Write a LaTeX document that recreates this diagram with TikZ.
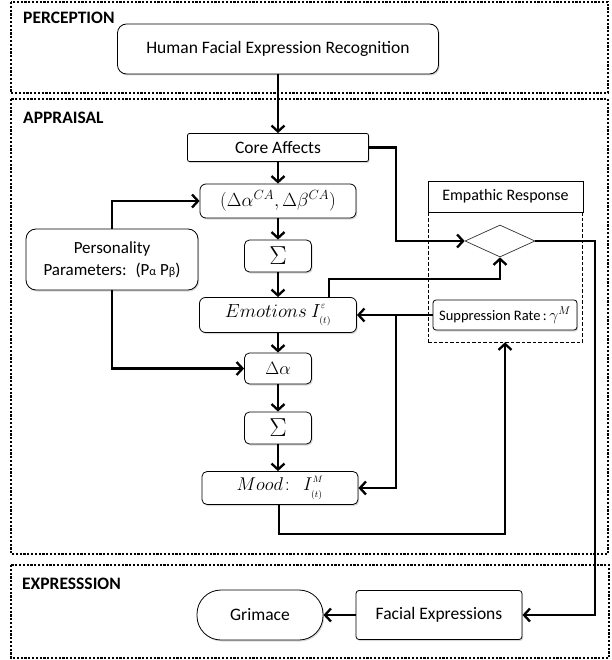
\documentclass[tikz,border=0pt]{standalone}
\usepackage{fix-cm}
\usepackage{fontspec}
\setmainfont{Carlito}
\usetikzlibrary{arrows.meta,shapes.geometric,shadows}
\newcommand{\supsub}[2]{^{\raise1.2pt\hbox{$\scriptscriptstyle #1$}}_{\lower1.8pt\hbox{$\scriptscriptstyle #2$}}}
\begin{document}
\begin{tikzpicture}[x=1pt,y=-1pt,
  sect/.style={draw, line width=2.2pt, dash pattern=on 2.2pt off 1.6pt},
  lbl/.style={font=\fontsize{17.5}{19}\selectfont\bfseries, anchor=west, inner sep=0pt},
  box/.style={draw, line width=0.8pt, fill=white, inner sep=0pt,
    drop shadow={opacity=0.3, shadow xshift=1.2pt, shadow yshift=-1.5pt},
    font=\fontsize{17.5}{21}\selectfont, align=center},
  arr/.style={line width=2.3pt, -{Straight Barb[length=6pt,width=13pt]}}
]
\useasboundingbox (0,0) rectangle (611,660);

% sections
\draw[sect] (11,2) rectangle (608,93);
\draw[sect] (11,99) rectangle (608,554);
\draw[sect] (11,565) rectangle (609,658);
\node[lbl] (lperc) at (23,18) {PERCEPTION};
\node[lbl] (lappr) at (23,118) {APPRAISAL};
\node[lbl] (lexpr) at (22,584) {EXPRESSSION};

% empathic response frame
\node[draw, line width=0.7pt, dash pattern=on 3.5pt off 2pt, minimum width=154pt, minimum height=161pt, inner sep=0pt] (emp) at (505,261.5) {};
\node[draw, line width=0.8pt, fill=white, minimum width=155pt, minimum height=31pt, inner sep=0pt, font=\fontsize{16}{19}\selectfont] (emph) at (505.5,196.5) {Empathic Response};

% perception
\node[box, rounded corners=9pt, minimum width=321pt, minimum height=50pt] (hfer) at (278,49) {Human Facial Expression Recognition};

% appraisal spine
\node[box, rounded corners=2pt, minimum width=181pt, minimum height=28pt] (core) at (278,147.5) {Core Affects};
\node[box, rounded corners=6pt, minimum width=156pt, minimum height=34pt, font=\fontsize{19}{22}\selectfont] (dca) at (278,201) {$(\Delta\alpha^{CA},\Delta\beta^{CA})$};
\node[box, rounded corners=5pt, minimum width=67pt, minimum height=32pt, font=\fontsize{26}{28}\selectfont] (s1) at (278,256) {$\Sigma$};
\node[box, rounded corners=6pt, minimum width=157pt, minimum height=35pt, font=\fontsize{19}{22}\selectfont] (emo) at (278,315) {$Emotions\ I\supsub{\varepsilon}{(t)}$};
\node[box, rounded corners=5pt, minimum width=67pt, minimum height=31pt, font=\fontsize{18}{21}\selectfont] (da) at (278,368.5) {$\Delta\alpha$};
\node[box, rounded corners=5pt, minimum width=67pt, minimum height=32pt, font=\fontsize{26}{28}\selectfont] (s2) at (278,428) {$\Sigma$};
\node[box, rounded corners=5pt, minimum width=156pt, minimum height=33pt, font=\fontsize{18.5}{21}\selectfont] (mood) at (280,488) {$Mood\!:\ \ I\supsub{M}{(t)}$};

% personality
\node[box, rounded corners=10pt, minimum width=172pt, minimum height=61pt, font=\fontsize{17}{22}\selectfont] (pers) at (112,259.5) {Personality\\Parameters:~ (P{\fontsize{12}{14}\selectfont α} P{\fontsize{12}{14}\selectfont β})};

% empathic internals
\node[draw, diamond, line width=0.7pt, draw=black!80, fill=white, minimum width=70pt, minimum height=32pt, inner sep=0pt] (dia) at (500,241) {};
\node[box, rounded corners=3pt, minimum width=144pt, minimum height=30pt, font=\fontsize{14.5}{17}\selectfont] (supp) at (505,315) {Suppression Rate\,:\,{\fontsize{16}{18}\selectfont$\gamma^{M}$}};

% expression
\node[box, rounded corners=24pt, minimum width=126pt, minimum height=50pt] (grim) at (260,615) {Grimace};
\node[box, rounded corners=3pt, minimum width=166pt, minimum height=49pt] (fexp) at (439,615) {Facial Expressions};

% named turning points
\coordinate (br) at (396,315);
\coordinate (rc) at (595,241);

% connectors
\draw[arr] (hfer.south) -- (core.north);
\draw[arr] (core.south) -- (dca.north);
\draw[arr] (dca.south) -- (s1.north);
\draw[arr] (s1.south) -- (emo.north);
\draw[arr] (emo.south) -- (da.north);
\draw[arr] (da.south) -- (s2.north);
\draw[arr] (s2.south) -- (mood.north -| s2.south);
\draw[arr] (pers.north) |- (dca.west);
\draw[arr] (pers.south) |- (da.west);
\draw[arr] (core.east) -- ++(27,0) |- (dia.west);
\draw[arr] ([xshift=51pt]emo.north) -- ++(0,-18) -| (dia.south);
\draw[arr] (supp.west) -- (emo.east);
\draw[arr] (br) |- (mood.east);
\draw[arr] ([xshift=-1pt]mood.south) -- ++(0,29) -| (emp.south);
\draw[arr] (dia.east) -- (rc) |- (fexp.east);
\draw[arr] (fexp.west) -- (grim.east);
\end{tikzpicture}
\end{document}
